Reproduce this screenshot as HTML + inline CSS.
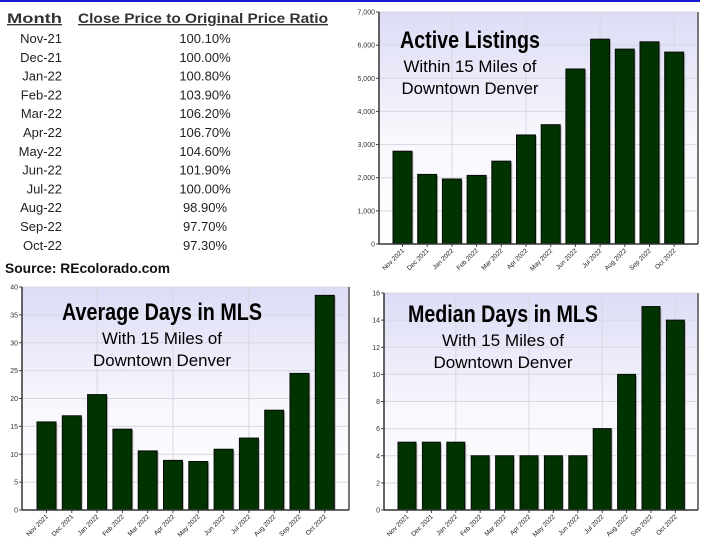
<!DOCTYPE html>
<html><head><meta charset="utf-8"><style>
html,body{margin:0;padding:0;background:#fff;width:710px;height:545px;overflow:hidden}
svg{position:absolute;left:0;top:0}
</style></head><body>
<svg id="s" width="710" height="545" xmlns="http://www.w3.org/2000/svg" font-family="Liberation Sans, Arial, sans-serif">
<defs><linearGradient id="g" x1="0" y1="0" x2="0" y2="1"><stop offset="0" stop-color="#dcdcf6"/><stop offset="0.55" stop-color="#f8f8fd"/><stop offset="1" stop-color="#ffffff"/></linearGradient></defs>
<rect x="0" y="0" width="700" height="2" fill="#1a1ad0"/>
<g id="tbl" font-family="Liberation Sans, DejaVu Sans, sans-serif" font-size="13" fill="#222"></g>
<text x="5" y="273" font-size="14" font-weight="bold" fill="#111" textLength="165" lengthAdjust="spacingAndGlyphs">Source: REcolorado.com</text>
</svg>
<script>
var s=document.getElementById('s'),NS='http://www.w3.org/2000/svg';
function el(t,a,txt,p){var e=document.createElementNS(NS,t);for(var k in a)e.setAttribute(k,a[k]);if(txt!=null)e.textContent=txt;(p||s).appendChild(e);return e;}
var tb=document.getElementById('tbl');
el('text',{x:7,y:23,'font-weight':'bold','font-size':'13.5','text-decoration':'underline',fill:'#333',textLength:'55',lengthAdjust:'spacingAndGlyphs'},'Month',tb);
el('text',{x:78,y:23,'font-weight':'bold','font-size':'13.5','text-decoration':'underline',fill:'#333',textLength:'250',lengthAdjust:'spacingAndGlyphs'},'Close Price to Original Price Ratio',tb);
var mo=['Nov-21','Dec-21','Jan-22','Feb-22','Mar-22','Apr-22','May-22','Jun-22','Jul-22','Aug-22','Sep-22','Oct-22'];
var va=['100.10%','100.00%','100.80%','103.90%','106.20%','106.70%','104.60%','101.90%','100.00%','98.90%','97.70%','97.30%'];
for(var i=0;i<12;i++){var y=43+i*18.8;
el('text',{x:62,y:y,'text-anchor':'end'},mo[i],tb);
el('text',{x:205,y:y,'text-anchor':'middle'},va[i],tb);}
var lbl=['Nov 2021','Dec 2021','Jan 2022','Feb 2022','Mar 2022','Apr 2022','May 2022','Jun 2022','Jul 2022','Aug 2022','Sep 2022','Oct 2022'];
function chart(o){
 var L=o.L,T=o.T,R=o.R,B=o.B;
 el('rect',{x:L,y:T,width:R-L,height:B-T,fill:'url(#g)'});
 var n=o.max/o.step;
 for(var k=0;k<=n;k++){var y=B-(B-T)*k/n;
  el('line',{x1:L,y1:y,x2:R,y2:y,stroke:'#d8d8e0','stroke-width':1});
  el('line',{x1:L-3,y1:y,x2:L,y2:y,stroke:'#444'});
  el('text',{x:L-4,y:y+2.5,'font-size':'7','text-anchor':'end',fill:'#333'},o.fmt(o.step*k));}
 for(var i=0;i<12;i++){var cx=o.b0+o.bw/2+i*o.p;
  if(i%3==2) el('line',{x1:cx,y1:T,x2:cx,y2:B,stroke:'#d8d8e0'});}
 el('line',{x1:R,y1:T,x2:R,y2:B,stroke:'#777','stroke-width':2});
 for(var i=0;i<12;i++){var x=o.b0+i*o.p,h=(B-T)*o.d[i]/o.max;
  el('rect',{x:x+1.5,y:B-h+1.5,width:o.bw,height:h-1.5,fill:'#999',opacity:0.6});
  el('rect',{x:x,y:B-h,width:o.bw,height:h,fill:'#003300',stroke:'#0a0a0a','stroke-width':1});
  var cx=x+o.bw/2;
  el('line',{x1:cx,y1:B,x2:cx,y2:B+3,stroke:'#444'});
  el('text',{x:cx+2,y:B+7,'font-size':'6.5','text-anchor':'end',fill:'#222',transform:'rotate(-45 '+(cx+2)+' '+(B+7)+')'},lbl[i]);}
 el('line',{x1:L,y1:T,x2:L,y2:B,stroke:'#333','stroke-width':1.5});
 el('line',{x1:L,y1:B,x2:R,y2:B,stroke:'#333','stroke-width':1.5});
 el('text',{x:o.tx-o.w1/2,y:o.ty,'font-size':'24','font-weight':'bold',fill:'#000',textLength:o.w1,lengthAdjust:'spacingAndGlyphs'},o.t1);
 el('text',{x:o.tx-o.w2/2,y:o.ty+24,'font-size':'17',fill:'#000',textLength:o.w2,lengthAdjust:'spacingAndGlyphs'},o.t2);
 el('text',{x:o.tx-o.w3/2,y:o.ty+46,'font-size':'17',fill:'#000',textLength:o.w3,lengthAdjust:'spacingAndGlyphs'},'Downtown Denver');
}
var th=function(v){return v>=1000?(Math.floor(v/1000)+',000'):String(v)};
chart({L:379,T:12,R:698,B:244,max:7000,step:1000,fmt:th,b0:393,bw:19,p:24.7,
 d:[2800,2100,1960,2070,2500,3290,3600,5280,6180,5880,6100,5790],tx:470,ty:48,t1:'Active Listings',t2:'Within 15 Miles of',w1:140,w2:133,w3:137});
chart({L:22,T:287,R:349,B:510,max:40,step:5,fmt:String,b0:37,bw:19,p:25.3,
 d:[15.8,16.9,20.7,14.5,10.6,8.9,8.7,10.9,12.9,17.9,24.5,38.5],tx:162,ty:320,t1:'Average Days in MLS',t2:'With 15 Miles of',w1:200,w2:120,w3:138});
chart({L:384,T:293,R:698,B:510,max:16,step:2,fmt:String,b0:398,bw:18,p:24.4,
 d:[5,5,5,4,4,4,4,4,6,10,15,14],tx:503,ty:322,t1:'Median Days in MLS',t2:'With 15 Miles of',w1:190,w2:122,w3:139});
</script>
</body></html>
